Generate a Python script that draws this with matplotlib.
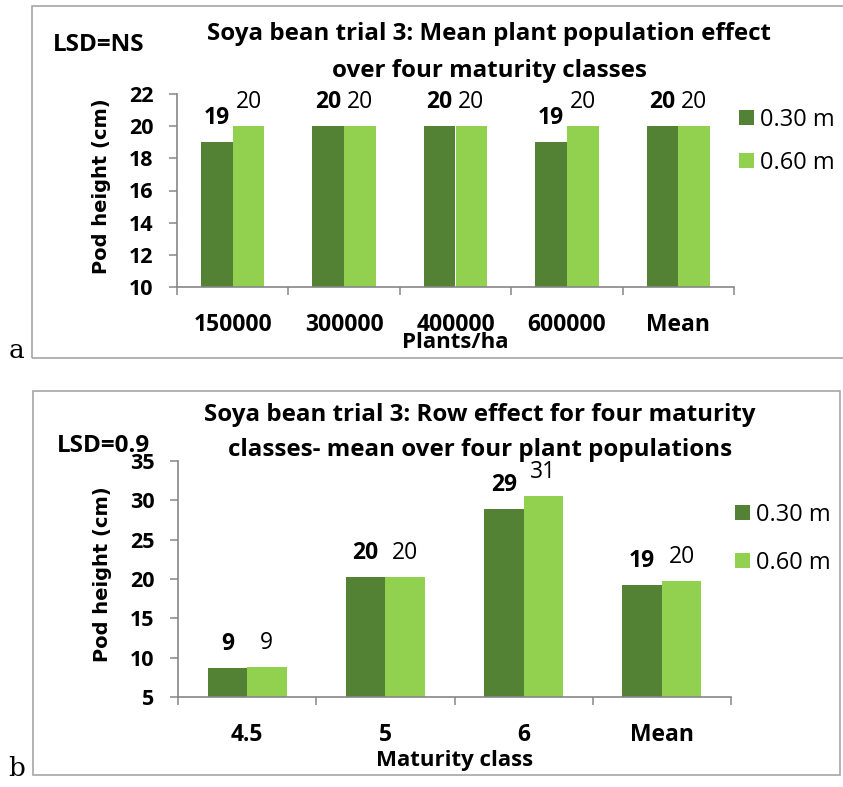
import matplotlib
matplotlib.use("Agg")
import matplotlib.pyplot as plt
from matplotlib.patches import Rectangle, Patch
import numpy as np

plt.rcParams['font.family'] = ['Open Sans', 'DejaVu Sans']

# ---------------- data ----------------
series_names = ["0.30 m", "0.60 m"]

a_categories = ["150000", "300000", "400000", "600000", "Mean"]
a_030 = [19, 20, 20, 19, 20]
a_060 = [20, 20, 20, 20, 20]
a_yticks = [10, 12, 14, 16, 18, 20, 22]
a_title = "Soya bean trial 3: Mean plant population effect\nover four maturity classes"
a_xlabel = "Plants/ha"
a_lsd = "LSD=NS"

b_categories = ["4.5", "5", "6", "Mean"]
b_030 = [8.7, 20.2, 28.9, 19.2]
b_060 = [8.8, 20.2, 30.6, 19.8]
b_yticks = [5, 10, 15, 20, 25, 30, 35]
b_title = "Soya bean trial 3: Row effect for four maturity\nclasses- mean over four plant populations"
b_xlabel = "Maturity class"
b_lsd = "LSD=0.9"

ylabel = "Pod height (cm)"

DARK = "#548235"
LIGHT = "#92D050"
AXC = "#868686"
BOXC = "#A6A6A6"

W, H = 843, 787
fig = plt.figure(figsize=(W / 100, H / 100), dpi=100)


def fx(px):
    return px / W


def fy(py):
    return 1 - py / H


def panel(ax_rect, cats, s1, s2, yticks, xlabel, label_y, ylab_x):
    ax = fig.add_axes(ax_rect)
    n = len(cats)
    x = np.arange(n)
    bw = 0.285
    ax.bar(x - bw / 2, s1, bw, color=DARK, zorder=2)
    ax.bar(x + bw / 2, s2, bw, color=LIGHT, zorder=2)
    ax.set_xlim(-0.5, n - 0.5)
    ax.set_ylim(yticks[0], yticks[-1])
    ax.set_yticks(yticks)
    ax.set_yticklabels([str(t) for t in yticks], fontsize=15.5, fontweight='bold')
    ax.set_xticks(np.arange(n + 1) - 0.5)
    ax.set_xticklabels([])
    ax.set_xticks(x, minor=True)
    ax.set_xticklabels(cats, minor=True, fontsize=16.5, fontweight='bold')
    ax.tick_params(axis='x', which='minor', length=0, pad=18.5)
    ax.tick_params(axis='both', which='major', direction='out', length=5.5,
                   width=1.1, color=AXC)
    ax.tick_params(axis='y', pad=11.5)
    for s in ['top', 'right']:
        ax.spines[s].set_visible(False)
    for s in ['left', 'bottom']:
        ax.spines[s].set_color(AXC)
        ax.spines[s].set_linewidth(1.2)
    ax.set_xlabel(xlabel, fontsize=16, fontweight='bold')
    ax.xaxis.set_label_coords(0.5, label_y)
    ax.xaxis.label.set_va('center')
    ax.set_ylabel(ylabel, fontsize=14, fontweight='bold', family='DejaVu Sans')
    ax.yaxis.set_label_coords(ylab_x, 0.52)
    ax.yaxis.label.set_va('center')
    for xi, v in zip(x, s1):
        ax.annotate(f"{v:.0f}", (xi - bw / 2, v), xytext=(0, 13),
                    textcoords='offset points', ha='center', va='baseline',
                    fontsize=16.5, fontweight='bold', annotation_clip=False)
    for xi, v in zip(x, s2):
        ax.annotate(f"{v:.0f}", (xi + bw / 2, v), xytext=(0, 13),
                    textcoords='offset points', ha='center', va='baseline',
                    fontsize=16.5, annotation_clip=False)
    return ax


# panel a
panel([fx(177), fy(287), fx(734) - fx(177), fy(94) - fy(287)],
      a_categories, a_030, a_060, a_yticks, a_xlabel, -0.285, -0.135)
# panel b
panel([fx(178), fy(697), fx(731) - fx(178), fy(461) - fy(697)],
      b_categories, b_030, b_060, b_yticks, b_xlabel, -0.267, -0.137)

# boxes
fig.patches.append(Rectangle((fx(32), fy(358)), fx(900) - fx(32), fy(6) - fy(358),
                             transform=fig.transFigure, fill=False,
                             edgecolor=BOXC, linewidth=1.2))
fig.patches.append(Rectangle((fx(33), fy(775)), fx(840) - fx(33), fy(391) - fy(775),
                             transform=fig.transFigure, fill=False,
                             edgecolor=BOXC, linewidth=1.2))

# titles
for line, yy in zip(a_title.split("\n"), [34, 71]):
    fig.text(fx(489), fy(yy), line, ha='center', va='center',
             fontsize=17.4, fontweight='bold')
for line, yy in zip(b_title.split("\n"), [415, 450]):
    fig.text(fx(480), fy(yy), line, ha='center', va='center',
             fontsize=17.4, fontweight='bold')

fig.text(fx(53), fy(45), a_lsd, ha='left', va='center', fontsize=17.5, fontweight='bold')
fig.text(fx(57), fy(446), b_lsd, ha='left', va='center', fontsize=17.5, fontweight='bold')

fig.text(fx(17), fy(350), "a", ha='center', va='center', fontsize=19, family='DejaVu Serif')
fig.text(fx(17), fy(768), "b", ha='center', va='center', fontsize=19, family='DejaVu Serif')

# legends
handles = [Patch(facecolor=DARK), Patch(facecolor=LIGHT)]
fig.legend(handles, series_names, loc='upper left',
           bbox_to_anchor=(fx(739), fy(108)), bbox_transform=fig.transFigure,
           frameon=False, fontsize=17, borderpad=0, borderaxespad=0,
           handlelength=0.63, handleheight=0.63, handletextpad=0.28,
           labelspacing=0.8)
fig.legend(handles, series_names, loc='upper left',
           bbox_to_anchor=(fx(735), fy(503)), bbox_transform=fig.transFigure,
           frameon=False, fontsize=17, borderpad=0, borderaxespad=0,
           handlelength=0.63, handleheight=0.63, handletextpad=0.28,
           labelspacing=1.0)

fig.savefig("out.png", dpi=100)
